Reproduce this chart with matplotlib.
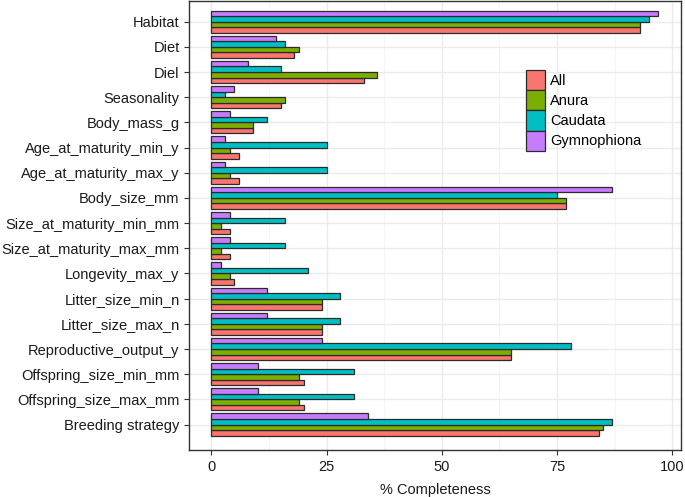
import numpy as np
import matplotlib.pyplot as plt
from matplotlib.patches import Patch

plt.rcParams['font.family'] = ['Liberation Sans', 'DejaVu Sans']

traits = ['Habitat', 'Diet', 'Diel', 'Seasonality', 'Body_mass_g',
          'Age_at_maturity_min_y', 'Age_at_maturity_max_y', 'Body_size_mm',
          'Size_at_maturity_min_mm', 'Size_at_maturity_max_mm', 'Longevity_max_y',
          'Litter_size_min_n', 'Litter_size_max_n', 'Reproductive_output_y',
          'Offspring_size_min_mm', 'Offspring_size_max_mm', 'Breeding strategy']

all_vals = [93, 18, 33, 15, 9, 6, 6, 77, 4, 4, 5, 24, 24, 65, 20, 20, 84]
anura = [93, 19, 36, 16, 9, 4, 4, 77, 2, 2, 4, 24, 24, 65, 19, 19, 85]
caudata = [95, 16, 15, 3, 12, 25, 25, 75, 16, 16, 21, 28, 28, 78, 31, 31, 87]
gymno = [97, 14, 8, 5, 4, 3, 3, 87, 4, 4, 2, 12, 12, 24, 10, 10, 34]

groups = ['All', 'Anura', 'Caudata', 'Gymnophiona']
colors = ['#F8766D', '#7CAE00', '#00BFC4', '#C77CFF']
series = [all_vals, anura, caudata, gymno]

fig, ax = plt.subplots(figsize=(6.85, 4.97), dpi=100)
fig.subplots_adjust(left=0.2764, right=0.9942, top=0.998, bottom=0.0946)

n = len(traits)
pos = np.arange(n)[::-1]  # Habitat at top
w = 0.22
for k, (vals, c) in enumerate(zip(series, colors)):
    off = -1.5 * w + k * w
    ax.barh(pos + off, vals, height=w, color=c, edgecolor='#2b2b2b', linewidth=0.9, zorder=3)

ax.set_yticks(pos)
ax.set_yticklabels(traits, fontsize=10.5, color='#1a1a1a')
ax.set_ylim(-1.01, n - 1 + 0.82)
ax.set_xlim(-4.8, 101.9)
ax.set_xticks([0, 25, 50, 75, 100])
ax.set_xticks([12.5, 37.5, 62.5, 87.5], minor=True)
ax.tick_params(axis='x', labelsize=10.5, colors='#333333', length=3.5, pad=4, labelcolor='#1a1a1a')
ax.tick_params(axis='x', which='minor', length=0)
ax.tick_params(axis='y', length=3.5, colors='#333333', labelcolor='#1a1a1a')
ax.grid(True, which='major', color='#EBEBEB', linewidth=1.0, zorder=0)
ax.grid(True, which='minor', axis='x', color='#F2F2F2', linewidth=0.6, zorder=0)
for s in ax.spines.values():
    s.set_color('#333333')
    s.set_linewidth(1.0)
ax.set_xlabel('% Completeness', fontsize=10.5, color='#1a1a1a', labelpad=6)

handles = [Patch(facecolor=c, edgecolor='#2b2b2b', linewidth=0.9, label=g) for g, c in zip(groups, colors)]
leg = ax.legend(handles=handles, loc='upper left', bbox_to_anchor=(0.684, 0.846), frameon=False,
                fontsize=10.5, handlelength=1.3, handleheight=1.75, handletextpad=0.4,
                labelspacing=0.0, borderpad=0.0, borderaxespad=0.0)

fig.savefig('out.png', dpi=100)
